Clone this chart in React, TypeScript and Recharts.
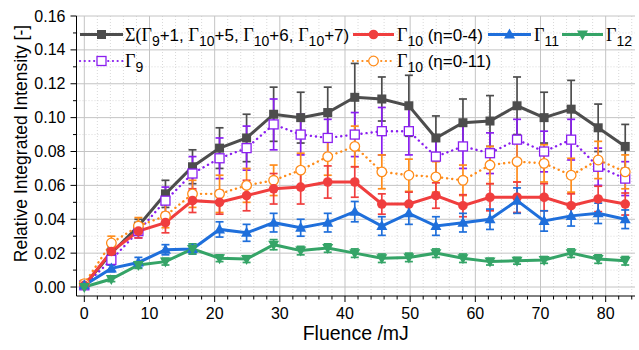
import { ComposedChart, Line, XAxis, YAxis, CartesianGrid, ErrorBar } from "recharts";

const fluence = [0, 4.15, 8.3, 12.45, 16.6, 20.75, 24.9, 29.05, 33.2, 37.35, 41.5, 45.65, 49.8, 53.95, 58.1, 62.25, 66.4, 70.55, 74.7, 78.85, 83];

const sumVals = [0.001, 0.020, 0.036, 0.055, 0.071, 0.082, 0.088, 0.102, 0.100, 0.103, 0.112, 0.111, 0.107, 0.088, 0.097, 0.098, 0.107, 0.100, 0.105, 0.094, 0.083];
const sumErr = [0.001, 0.003, 0.004, 0.008, 0.010, 0.012, 0.014, 0.016, 0.015, 0.015, 0.020, 0.013, 0.018, 0.013, 0.014, 0.015, 0.017, 0.015, 0.017, 0.014, 0.013];

const g9Vals = [0.001, 0.016, 0.033, 0.051, 0.067, 0.076, 0.082, 0.096, 0.090, 0.088, 0.090, 0.092, 0.092, 0.077, 0.083, 0.079, 0.087, 0.080, 0.087, 0.071, 0.064];
const g9Err = [0.001, 0.003, 0.004, 0.008, 0.010, 0.012, 0.013, 0.015, 0.012, 0.011, 0.013, 0.014, 0.014, 0.012, 0.013, 0.012, 0.012, 0.012, 0.012, 0.011, 0.010];

const g10wVals = [0.002, 0.026, 0.036, 0.042, 0.055, 0.055, 0.060, 0.063, 0.069, 0.077, 0.083, 0.068, 0.066, 0.065, 0.063, 0.072, 0.074, 0.073, 0.066, 0.075, 0.068];
const g10wErr = [0.002, 0.004, 0.005, 0.007, 0.008, 0.011, 0.010, 0.009, 0.010, 0.011, 0.012, 0.010, 0.0095, 0.009, 0.009, 0.011, 0.012, 0.011, 0.010, 0.011, 0.010];

const g10nVals = [0.001, 0.021, 0.033, 0.038, 0.051, 0.050, 0.054, 0.058, 0.059, 0.062, 0.062, 0.049, 0.049, 0.054, 0.048, 0.053, 0.053, 0.053, 0.048, 0.052, 0.049];
const g10nErr = [0.001, 0.003, 0.004, 0.006, 0.007, 0.007, 0.009, 0.009, 0.010, 0.0095, 0.009, 0.006, 0.007, 0.0075, 0.0065, 0.008, 0.009, 0.008, 0.007, 0.0075, 0.0065];

const g11Vals = [0.001, 0.011, 0.0145, 0.022, 0.0225, 0.034, 0.032, 0.038, 0.035, 0.038, 0.0445, 0.036, 0.0435, 0.036, 0.038, 0.040, 0.051, 0.039, 0.042, 0.0435, 0.040];
const g11Err = [0.001, 0.002, 0.003, 0.003, 0.003, 0.0045, 0.005, 0.0055, 0.005, 0.0055, 0.006, 0.0055, 0.0065, 0.0055, 0.0055, 0.006, 0.0075, 0.006, 0.006, 0.006, 0.0055];

const g12Vals = [0.0, 0.0047, 0.013, 0.015, 0.0225, 0.017, 0.0165, 0.025, 0.0215, 0.023, 0.020, 0.017, 0.0175, 0.020, 0.017, 0.015, 0.0155, 0.016, 0.020, 0.0165, 0.0155];
const g12Err = [0.001, 0.0015, 0.002, 0.002, 0.003, 0.002, 0.002, 0.003, 0.0025, 0.0025, 0.0025, 0.0025, 0.0025, 0.0025, 0.0025, 0.002, 0.002, 0.002, 0.0025, 0.0025, 0.0025];

const xTicks = [0, 2, 4, 6, 8, 10, 12, 14, 16, 18, 20, 22, 24, 26, 28, 30, 32, 34, 36, 38, 40, 42, 44, 46, 48, 50, 52, 54, 56, 58, 60, 62, 64, 66, 68, 70, 72, 74, 76, 78, 80, 82, 84];
const yTicks = [0, 0.01, 0.02, 0.03, 0.04, 0.05, 0.06, 0.07, 0.08, 0.09, 0.1, 0.11, 0.12, 0.13, 0.14, 0.15, 0.16];
const xMajor = [0, 10, 20, 30, 40, 50, 60, 70, 80];
const xMinor = [2, 4, 6, 8, 12, 14, 16, 18, 22, 24, 26, 28, 32, 34, 36, 38, 42, 44, 46, 48, 52, 54, 56, 58, 62, 64, 66, 68, 72, 74, 76, 78, 82, 84];
const yMajor = [0, 0.02, 0.04, 0.06, 0.08, 0.1, 0.12, 0.14, 0.16];
const yMinor = [0.01, 0.03, 0.05, 0.07, 0.09, 0.11, 0.13, 0.15];

const C = {
  sum: "#4d4d4d",
  g9: "#8a1ef0",
  g10w: "#ff8c1a",
  g10n: "#f03e3e",
  g11: "#1f6fdb",
  g12: "#35a467",
};

const SANS = "'Liberation Sans', Arial, sans-serif";
const SERIF = "'Liberation Serif', 'Times New Roman', serif";

const data = fluence.map((f, i) => ({
  f,
  sum: sumVals[i], sumE: sumErr[i],
  g9: g9Vals[i], g9E: g9Err[i],
  g10w: g10wVals[i], g10wE: g10wErr[i],
  g10n: g10nVals[i], g10nE: g10nErr[i],
  g11: g11Vals[i], g11E: g11Err[i],
  g12: g12Vals[i], g12E: g12Err[i],
}));

type Shape = "square" | "circle" | "up" | "down" | "osquare" | "ocircle";

function marker(shape: Shape, color: string, cx: number, cy: number, key?: string) {
  if (shape === "square") return <rect key={key} x={cx - 4.5} y={cy - 4.5} width={9} height={9} fill={color} />;
  if (shape === "osquare") return <rect key={key} x={cx - 4.5} y={cy - 4.5} width={9} height={9} fill="#fff" stroke={color} strokeWidth={1.3} />;
  if (shape === "circle") return <circle key={key} cx={cx} cy={cy} r={4.8} fill={color} />;
  if (shape === "ocircle") return <circle key={key} cx={cx} cy={cy} r={4.8} fill="#fff" stroke={color} strokeWidth={1.3} />;
  if (shape === "up") return <polygon key={key} points={`${cx},${cy - 6} ${cx - 5.5},${cy + 4} ${cx + 5.5},${cy + 4}`} fill={color} />;
  return <polygon key={key} points={`${cx},${cy + 6} ${cx - 5.5},${cy - 4} ${cx + 5.5},${cy - 4}`} fill={color} />;
}

const dotFn = (shape: Shape, color: string, name: string) => (p: any) =>
  marker(shape, color, p.cx, p.cy, `${name}-${p.index}`);

const BottomTick = (p: any) => {
  const v = p.payload.value;
  const major = v % 10 === 0;
  return (
    <g>
      <line x1={p.x} x2={p.x} y1={p.y} y2={p.y + (major ? 6 : 3.5)} stroke="#000" />
      {major && (
        <text x={p.x} y={p.y + 23} textAnchor="middle" fontFamily={SANS} fontSize={16} fill="#000">
          {v}
        </text>
      )}
    </g>
  );
};

const TopTick = (p: any) => {
  const major = p.payload.value % 10 === 0;
  return <line x1={p.x} x2={p.x} y1={p.y} y2={p.y + (major ? 6 : 3.5)} stroke="#000" />;
};

const LeftTick = (p: any) => {
  const v = p.payload.value;
  const major = Math.round(v * 100) % 2 === 0;
  return (
    <g>
      <line x1={p.x - (major ? 6 : 3.5)} x2={p.x} y1={p.y} y2={p.y} stroke="#000" />
      {major && (
        <text x={p.x - 11} y={p.y + 5.5} textAnchor="end" fontFamily={SANS} fontSize={16} fill="#000">
          {v.toFixed(2)}
        </text>
      )}
    </g>
  );
};

const RightTick = (p: any) => {
  const major = Math.round(p.payload.value * 100) % 2 === 0;
  return <line x1={p.x - (major ? 6 : 3.5)} x2={p.x} y1={p.y} y2={p.y} stroke="#000" />;
};

// Γ with subscript, followed by normal-baseline text
const G = ({ sub, rest = "" }: { sub: string; rest?: string }) => (
  <>
    <tspan fontFamily={SERIF} fontSize={18}>Γ</tspan>
    <tspan dy={5} fontSize={14}>{sub}</tspan>
    <tspan dy={-5}>{rest || "\u200a"}</tspan>
  </>
);

function LegendOverlay() {
  const row1 = 34.5;
  const row2 = 61;
  const sym = (x1: number, x2: number, y: number, shape: Shape, color: string, dotted = false) => (
    <g>
      <line
        x1={x1} x2={x2} y1={y} y2={y} stroke={color}
        strokeWidth={dotted ? 2.2 : 3}
        strokeDasharray={dotted ? "0.1 4.6" : undefined}
        strokeLinecap={dotted ? "round" : "butt"}
      />
      {marker(shape, color, (x1 + x2) / 2, y)}
    </g>
  );
  const txt = { fontFamily: SANS, fontSize: 17, fill: "#000" } as const;
  return (
    <svg width={639} height={80} style={{ position: "absolute", left: 0, top: 0, pointerEvents: "none" }}>
      {sym(80, 123, row1, "square", C.sum)}
      <text x={125} y={row1 + 6} {...txt}>
        <tspan fontFamily={SERIF} fontSize={18}>Σ(</tspan>
        <G sub="9" rest="+1, " />
        <G sub="10" rest="+5, " />
        <G sub="10" rest="+6, " />
        <G sub="10" rest="+7)" />
      </text>
      {sym(353, 394, row1, "circle", C.g10n)}
      <text x={397} y={row1 + 6} {...txt}>
        <G sub="10" rest=" (η=0-4)" />
      </text>
      {sym(488, 531, row1, "up", C.g11)}
      <text x={534} y={row1 + 6} {...txt}>
        <G sub="11" />
      </text>
      {sym(562, 603, row1, "down", C.g12)}
      <text x={606} y={row1 + 6} {...txt}>
        <G sub="12" />
      </text>
      {sym(80, 123, row2, "osquare", C.g9, true)}
      <text x={125} y={row2 + 6} {...txt}>
        <G sub="9" />
      </text>
      {sym(353, 394, row2, "ocircle", C.g10w, true)}
      <text x={397} y={row2 + 6} {...txt}>
        <G sub="10" rest=" (η=0-11)" />
      </text>
    </svg>
  );
}

const series: { key: string; shape: Shape; color: string; dotted?: boolean }[] = [
  { key: "sum", shape: "square", color: C.sum },
  { key: "g9", shape: "osquare", color: C.g9, dotted: true },
  { key: "g10w", shape: "ocircle", color: C.g10w, dotted: true },
  { key: "g10n", shape: "circle", color: C.g10n },
  { key: "g11", shape: "up", color: C.g11 },
  { key: "g12", shape: "down", color: C.g12 },
];

export default function App() {
  return (
    <div style={{ position: "absolute", left: 0, top: 0, width: 639, height: 350, background: "#fff" }}>
      <ComposedChart width={639} height={350} data={data} margin={{ top: 16, right: 4, bottom: 0, left: 0 }}>
        <CartesianGrid
          horizontalValues={yMinor}
          verticalValues={xMinor}
          stroke="#d9d9d9"
          strokeDasharray="1 2"
        />
        <CartesianGrid horizontalValues={yMajor} verticalValues={xMajor} stroke="#c4c4c4" />
        <XAxis
          dataKey="f"
          type="number"
          domain={[-1.2, 84.5]}
          allowDataOverflow
          ticks={xTicks}
          interval={0}
          height={54}
          tickSize={0}
          tickMargin={0}
          tickLine={false}
          tick={<BottomTick />}
          axisLine={{ stroke: "#000" }}
          label={{
            content: (p: any) => (
              <text
                x={p.viewBox.x + p.viewBox.width / 2}
                y={p.viewBox.y + 44}
                textAnchor="middle"
                fontFamily={SANS}
                fontSize={19.5}
                fill="#000"
              >
                Fluence /mJ
              </text>
            ),
          }}
        />
        <XAxis
          xAxisId="top"
          orientation="top"
          dataKey="f"
          type="number"
          domain={[-1.2, 84.5]}
          allowDataOverflow
          ticks={xTicks}
          interval={0}
          height={0}
          tickSize={0}
          tickMargin={0}
          tickLine={false}
          tick={<TopTick />}
          axisLine={{ stroke: "#000" }}
        />
        <YAxis
          type="number"
          domain={[-0.0053, 0.16]}
          allowDataOverflow
          ticks={yTicks}
          interval={0}
          width={76.5}
          tickSize={0}
          tickMargin={0}
          tickLine={false}
          tick={<LeftTick />}
          axisLine={{ stroke: "#000" }}
          label={{
            content: () => {
              const cx = 21;
              const cy = 143.5;
              return (
                <text
                  x={cx}
                  y={cy}
                  transform={`rotate(-90 ${cx} ${cy})`}
                  textAnchor="middle"
                  dominantBaseline="central"
                  fontFamily={SANS}
                  fontSize={17.5}
                  fill="#000"
                >
                  Relative Integrated Intensity [-]
                </text>
              );
            },
          }}
        />
        <YAxis
          yAxisId="right"
          orientation="right"
          type="number"
          domain={[-0.0053, 0.16]}
          allowDataOverflow
          ticks={yTicks}
          interval={0}
          width={0}
          tickSize={0}
          tickMargin={0}
          tickLine={false}
          tick={<RightTick />}
          axisLine={{ stroke: "#000" }}
        />
        {series.map((s) => (
          <Line
            key={s.key}
            dataKey={s.key}
            type="linear"
            stroke={s.color}
            strokeWidth={s.dotted ? 2.4 : 3}
            strokeDasharray={s.dotted ? "0.1 5" : undefined}
            strokeLinecap={s.dotted ? "round" : "butt"}
            dot={dotFn(s.shape, s.color, s.key)}
            activeDot={false}
            isAnimationActive={false}
          >
            <ErrorBar dataKey={`${s.key}E`} width={4} stroke={s.color} strokeWidth={1.7} direction="y" />
          </Line>
        ))}
      </ComposedChart>
      <LegendOverlay />
    </div>
  );
}
